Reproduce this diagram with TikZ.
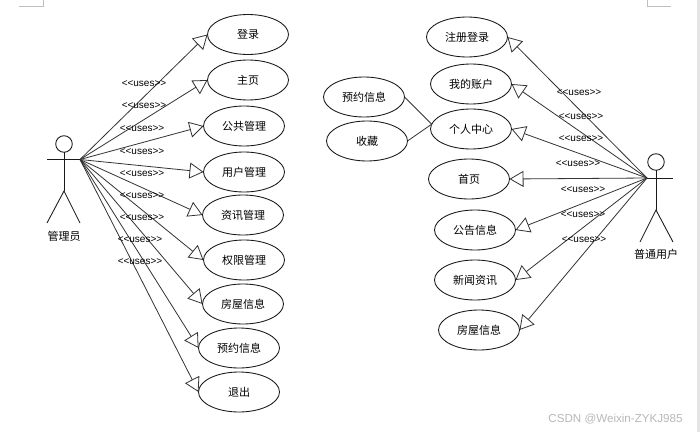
\documentclass[tikz,border=0pt]{standalone}
\usepackage{fontspec}
\setmainfont{Liberation Sans}
\newfontfamily\cjk{Noto Sans CJK SC}
\usetikzlibrary{shapes.geometric,arrows.meta}
\tikzset{
  usecase/.style={draw=black!90,ellipse,line width=0.65pt,minimum width=60.75pt,minimum height=30pt,inner sep=0pt,outer sep=0pt,font=\cjk\fontsize{8.25pt}{10pt}\selectfont},
  rel/.style={draw=black!80,line width=0.6pt,-{Triangle[open,length=10.5pt,width=12pt]}},
  plainlink/.style={draw=black!80,line width=0.6pt},
  usetag/.style={inner sep=0pt,font=\fontsize{7.5pt}{8pt}\selectfont},
  actorline/.style={draw=black!90,line width=0.65pt},
  actorname/.style={inner sep=0pt,font=\cjk\fontsize{8.25pt}{10pt}\selectfont},
  head/.style={circle,draw=black!90,line width=0.65pt,minimum size=12.4pt,inner sep=0pt,outer sep=0pt},
  pagemark/.style={draw=black!25,line width=0.5pt},
}
\begin{document}
\begin{tikzpicture}[x=0.75pt,y=-0.75pt]
\useasboundingbox (0,0) rectangle (700,432);
\fill[white] (0,0) rectangle (700,432);
\fill[black!10] (697,0) rectangle (700,432);
\draw[pagemark] (19,6.5) -- (43,6.5) -- (43,0);
\draw[pagemark] (647,0) -- (647,6.5) -- (671,6.5);

% admin actor
\node[head] (ahead) at (64,144) {};
\coordinate (aleft) at (47,159.5);
\coordinate (ahand) at (80,159.5);
\coordinate (ahip) at (64,191);
\coordinate (alegl) at (47,223);
\coordinate (alegr) at (80,223);
\draw[actorline] (ahead) -- (ahip);
\draw[actorline] (aleft) -- (ahand);
\draw[actorline] (alegl) -- (ahip) -- (alegr);
\node[actorname] (aname) at (64,236) {管理员};

% user actor
\node[head] (uhead) at (656,162) {};
\coordinate (uleft) at (647,178);
\coordinate (uright) at (673,178);
\coordinate (uhip) at (656,210);
\coordinate (ulegl) at (640,242);
\coordinate (ulegr) at (673,242);
\draw[actorline] (uhead) -- (uhip);
\draw[actorline] (uleft) -- (uright);
\draw[actorline] (ulegl) -- (uhip) -- (ulegr);
\node[actorname] (uname) at (656,254) {普通用户};

% left cases
\node[usecase] (l1) at (248,34.5) {登录};
\node[usecase] (l2) at (248,80) {主页};
\node[usecase] (l3) at (244,126) {公共管理};
\node[usecase] (l4) at (244,172) {用户管理};
\node[usecase] (l5) at (243,215) {资讯管理};
\node[usecase] (l6) at (244,260) {权限管理};
\node[usecase] (l7) at (243,304) {房屋信息};
\node[usecase] (l8) at (239,348) {预约信息};
\node[usecase] (l9) at (239,392) {退出};

% right cases
\node[usecase] (r1) at (467,37) {注册登录};
\node[usecase] (r2) at (471,84) {我的账户};
\node[usecase] (r3) at (471,129) {个人中心};
\node[usecase] (r4) at (469,179) {首页};
\node[usecase] (r5) at (475,230) {公告信息};
\node[usecase] (r6) at (475,280) {新闻资讯};
\node[usecase] (r7) at (479,330) {房屋信息};
\node[usecase] (s1) at (364,97) {预约信息};
\node[usecase] (s2) at (367,141) {收藏};

\foreach \t in {l1,l2,l3,l4,l5,l6,l7,l8,l9}
  \draw[rel] (ahand) -- (\t.west);
\foreach \t in {r1,r2,r3,r4,r5,r6,r7}
  \draw[rel] (uleft) -- (\t.east);

\draw[plainlink] (s1.east) -- (r3.173);
\draw[plainlink] (s2.east) -- (r3.173);

\node[usetag] (ta1) at (144,83.5) {<{}<uses>{}>};
\node[usetag] (ta2) at (144,106) {<{}<uses>{}>};
\node[usetag] (ta3) at (142,128.5) {<{}<uses>{}>};
\node[usetag] (ta4) at (142,151.5) {<{}<uses>{}>};
\node[usetag] (ta5) at (142,173.5) {<{}<uses>{}>};
\node[usetag] (ta6) at (142,196) {<{}<uses>{}>};
\node[usetag] (ta7) at (142,217.5) {<{}<uses>{}>};
\node[usetag] (ta8) at (140,239.5) {<{}<uses>{}>};
\node[usetag] (ta9) at (140,261.5) {<{}<uses>{}>};

\node[usetag] (tb1) at (579,92.5) {<{}<uses>{}>};
\node[usetag] (tb2) at (581,116.5) {<{}<uses>{}>};
\node[usetag] (tb3) at (581,138.5) {<{}<uses>{}>};
\node[usetag] (tb4) at (578,163.5) {<{}<uses>{}>};
\node[usetag] (tb5) at (583,189.5) {<{}<uses>{}>};
\node[usetag] (tb6) at (583,214.5) {<{}<uses>{}>};
\node[usetag] (tb7) at (584,239.5) {<{}<uses>{}>};

\node[inner sep=0pt,text=black!28,font=\fontsize{8.7pt}{10pt}\selectfont] (mark) at (615.5,419) {CSDN @Weixin-ZYKJ985};
\end{tikzpicture}
\end{document}
